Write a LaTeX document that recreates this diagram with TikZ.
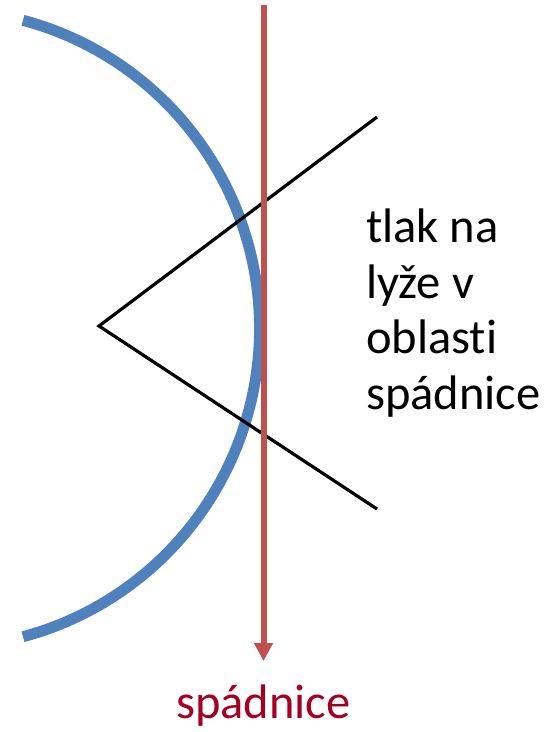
\documentclass[tikz,border=0pt]{standalone}
\usepackage{fontspec}
\setmainfont{Carlito}[Ligatures=NoCommon]
\usetikzlibrary{arrows.meta}
\definecolor{skiblue}{RGB}{79,129,189}
\definecolor{fallred}{RGB}{192,80,77}
\definecolor{labred}{RGB}{165,0,33}

\begin{document}
\begin{tikzpicture}[
  x=1pt,y=-1pt,
  turn/.style={skiblue,line width=11pt},
  fall/.style={fallred,line width=6pt,-{Triangle[length=18pt,width=18pt]}},
  edge/.style={black,line width=3.2pt},
  lab/.style={font=\fontsize{48.5}{55.5}\selectfont,inner sep=0pt},
]
\useasboundingbox (0,0) rectangle (550,732);
\coordinate (c) at (-59.6,328.5);
\draw[turn] (c) ++(-75:319.1) arc[start angle=-75,end angle=75,radius=319.1];
\coordinate (v) at (99,326);
\coordinate (e1) at (377,117);
\coordinate (e2) at (377,509);
\draw[edge] (e1) -- (v) -- (e2);
\coordinate (ftop) at (263.5,5);
\coordinate (fend) at (263.5,661);
\draw[fall] (ftop) -- (fend);
\node[lab,anchor=base west,align=left] (note) at (366,409) {tlak na\\lyže v\\oblasti\\spádnice};
\node[lab,labred,anchor=base] (falllab) at (263.5,718) {spádnice};
\end{tikzpicture}
\end{document}
